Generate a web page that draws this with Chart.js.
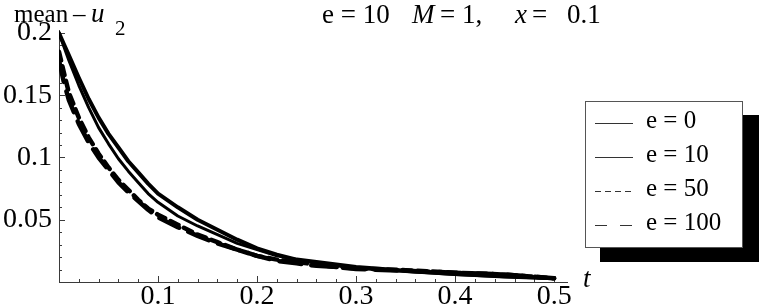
<!DOCTYPE html>
<html>
<head>
<meta charset="utf-8">
<script src="https://cdn.jsdelivr.net/npm/chart.js@4.4.1/dist/chart.umd.min.js"></script>
<style>
  html, body { margin: 0; padding: 0; background: #fff; }
  #wrap { position: relative; width: 759px; height: 307px; }
</style>
</head>
<body>
<div id="wrap"><canvas id="c"></canvas></div>
<script>
// ---- data ----
const T       = [0, 0.005, 0.01, 0.02, 0.03, 0.04, 0.05, 0.06, 0.07, 0.08, 0.09, 0.10, 0.12, 0.14, 0.16, 0.18, 0.20, 0.22, 0.24, 0.26, 0.28, 0.30, 0.35, 0.40, 0.45, 0.50];
const E0      = [0.200, 0.191, 0.182, 0.164, 0.147, 0.132, 0.119, 0.108, 0.097, 0.088, 0.079, 0.071, 0.060, 0.050, 0.042, 0.034, 0.027, 0.022, 0.018, 0.016, 0.014, 0.012, 0.009, 0.0065, 0.0045, 0.003];
const E10     = [0.200, 0.189, 0.178, 0.158, 0.140, 0.124, 0.111, 0.099, 0.089, 0.080, 0.071, 0.064, 0.053, 0.045, 0.038, 0.031, 0.026, 0.021, 0.018, 0.015, 0.013, 0.011, 0.0085, 0.006, 0.0042, 0.0028];
const E50     = [0.185, 0.168, 0.152, 0.132, 0.116, 0.103, 0.092, 0.082, 0.074, 0.066, 0.059, 0.054, 0.046, 0.038, 0.032, 0.026, 0.021, 0.018, 0.016, 0.014, 0.012, 0.011, 0.0095, 0.0075, 0.006, 0.003];
const E100    = [0.178, 0.160, 0.146, 0.127, 0.112, 0.100, 0.090, 0.080, 0.072, 0.065, 0.058, 0.052, 0.044, 0.037, 0.031, 0.026, 0.021, 0.017, 0.015, 0.013, 0.012, 0.0105, 0.009, 0.0075, 0.006, 0.003];
const SERIES_NAMES = ['e = 0', 'e = 10', 'e = 50', 'e = 100'];
const X_TICKS = [0.1, 0.2, 0.3, 0.4, 0.5];
const X_TICK_LABELS = ['0.1', '0.2', '0.3', '0.4', '0.5'];
const Y_TICKS = [0.05, 0.1, 0.15, 0.2];
const Y_TICK_LABELS = ['0.05', '0.1', '0.15', '0.2'];
const X_MINOR_STEP = 0.02;
const Y_MINOR_STEP = 0.01;

const SERIF = '"Liberation Serif", "DejaVu Serif", serif';
const AXIS_COLOR = '#3a3a3a';

function pts(ys) { return T.map((t, i) => ({ x: t, y: ys[i] })); }

const styles = [
  { borderWidth: 4,   borderDash: [] },
  { borderWidth: 3,   borderDash: [] },
  { borderWidth: 4.5, borderDash: [9, 6] },
  { borderWidth: 4.5, borderDash: [22, 10] }
];
const legendDash = [[], [], [6, 4], [12, 13]];
const seriesValues = [E0, E10, E50, E100];

const datasets = seriesValues.map((vals, i) => ({
  label: SERIES_NAMES[i],
  data: pts(vals),
  borderColor: '#000',
  backgroundColor: '#000',
  borderWidth: styles[i].borderWidth,
  borderDash: styles[i].borderDash,
  borderCapStyle: 'round',
  borderJoinStyle: 'round',
  pointRadius: 0,
  tension: 0,
  fill: false
}));

// inward tick marks drawn through the scales
const innerTicks = {
  id: 'innerTicks',
  beforeDatasetsDraw(chart) {
    const { ctx, scales: { x, y } } = chart;
    const x0 = x.getPixelForValue(0), y0 = y.getPixelForValue(0);
    ctx.save();
    ctx.strokeStyle = AXIS_COLOR;
    ctx.lineWidth = 1;
    ctx.beginPath();
    for (let k = 1; k * X_MINOR_STEP <= x.max + 1e-9; k++) {
      const v = k * X_MINOR_STEP;
      const major = X_TICKS.some(m => Math.abs(m - v) < 1e-9);
      const px = Math.round(x.getPixelForValue(v)) + 0.5;
      ctx.moveTo(px, y0);
      ctx.lineTo(px, y0 - (major ? 6 : 3));
    }
    for (let k = 1; k * Y_MINOR_STEP <= y.max + 1e-9; k++) {
      const v = k * Y_MINOR_STEP;
      const major = Y_TICKS.some(m => Math.abs(m - v) < 1e-9);
      const py = Math.round(y.getPixelForValue(v)) + 0.5;
      ctx.moveTo(x0, py);
      ctx.lineTo(x0 + (major ? 6 : 3), py);
    }
    ctx.stroke();
    ctx.restore();
  }
};

// titles, axis labels and the framed legend
const annotations = {
  id: 'annotations',
  afterDraw(chart) {
    const ctx = chart.ctx;
    ctx.save();
    ctx.fillStyle = '#000';
    ctx.textBaseline = 'alphabetic';
    ctx.textAlign = 'left';
    const f = (style, size) => `${style} ${size}px ${SERIF}`;

    // y-axis label "mean – u2"
    ctx.font = f('normal', 25);
    ctx.fillText('mean', 14, 22);
    ctx.fillText('\u2013', 73, 22);
    ctx.font = f('italic', 27);
    ctx.fillText('u', 91, 22);
    ctx.font = f('normal', 21);
    ctx.fillText('2', 115, 35);

    // title  "e = 10   M = 1,   x =  0.1"
    ctx.font = f('normal', 27);
    ctx.fillText('e = 10', 322, 23);
    ctx.font = f('italic', 27);
    ctx.fillText('M', 412, 23);
    ctx.font = f('normal', 27);
    ctx.fillText('= 1,', 440, 23);
    ctx.font = f('italic', 27);
    ctx.fillText('x', 515, 23);
    ctx.font = f('normal', 27);
    ctx.fillText('=', 532, 23);
    ctx.fillText('0.1', 567, 23);

    // x-axis label t
    ctx.font = f('italic', 27);
    ctx.fillText('t', 583, 287);

    // legend: shadow, frame, entries
    ctx.fillStyle = '#000';
    ctx.fillRect(600, 115, 159, 147);
    ctx.fillStyle = '#fff';
    ctx.fillRect(585, 101, 158, 147);
    ctx.strokeStyle = '#555';
    ctx.lineWidth = 1;
    ctx.strokeRect(585.5, 101.5, 157, 146);

    const rowY = [121, 155, 189, 223];
    chart.data.datasets.forEach((ds, i) => {
      const yy = rowY[i];
      ctx.beginPath();
      ctx.setLineDash(legendDash[i]);
      ctx.strokeStyle = '#333';
      ctx.lineWidth = 1.2;
      ctx.moveTo(595, yy + 2.5);
      ctx.lineTo(633, yy + 2.5);
      ctx.stroke();
      ctx.setLineDash([]);
      ctx.fillStyle = '#000';
      ctx.font = f('normal', 25);
      ctx.textBaseline = 'middle';
      ctx.fillText(ds.label, 646, yy);
    });
    ctx.restore();
  }
};

new Chart(document.getElementById('c'), {
  type: 'line',
  data: { datasets },
  plugins: [innerTicks, annotations],
  options: {
    responsive: true,
    maintainAspectRatio: false,
    animation: false,
    layout: { padding: { left: 0, right: 192, top: 30, bottom: 0 } },
    plugins: { legend: { display: false }, tooltip: { enabled: false } },
    scales: {
      x: {
        type: 'linear',
        min: 0,
        max: 0.513,
        grid: { display: false, drawTicks: false },
        border: { display: true, color: AXIS_COLOR, width: 1 },
        afterBuildTicks: s => { s.ticks = X_TICKS.map(v => ({ value: v })); },
        afterFit: s => { s.height = 25; },
        ticks: {
          autoSkip: false,
          maxRotation: 0,
          padding: 1,
          color: '#000',
          font: { family: SERIF, size: 28, lineHeight: 1 },
          callback: (v) => { const i = X_TICKS.findIndex(m => Math.abs(m - v) < 1e-9); return i >= 0 ? X_TICK_LABELS[i] : ''; }
        }
      },
      y: {
        type: 'linear',
        min: 0,
        max: 0.2024,
        grid: { display: false, drawTicks: false },
        border: { display: true, color: AXIS_COLOR, width: 1 },
        afterBuildTicks: s => { s.ticks = Y_TICKS.map(v => ({ value: v })); },
        afterFit: s => { s.width = 59; },
        ticks: {
          autoSkip: false,
          padding: 7,
          color: '#000',
          font: { family: SERIF, size: 28, lineHeight: 1 },
          callback: (v) => { const i = Y_TICKS.findIndex(m => Math.abs(m - v) < 1e-9); return i >= 0 ? Y_TICK_LABELS[i] : ''; }
        }
      }
    }
  }
});
</script>
</body>
</html>
